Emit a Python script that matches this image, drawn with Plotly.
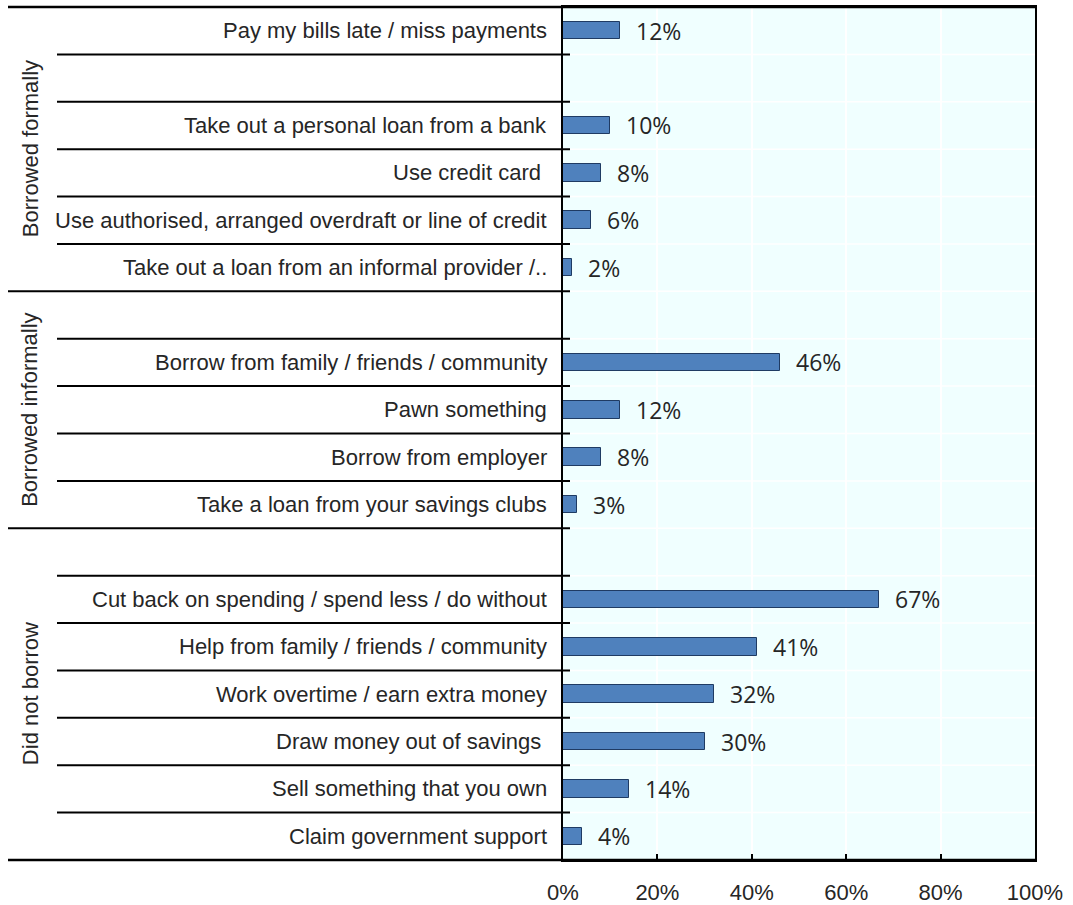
import plotly.graph_objects as go

categories = [
    "Pay my bills late / miss payments",
    "",
    "Take out a personal loan from a bank",
    "Use credit card\u00a0",
    "Use authorised, arranged overdraft or line of credit",
    "Take out a loan from an informal provider /..",
    "",
    "Borrow from family / friends / community",
    "Pawn something",
    "Borrow from employer",
    "Take a loan from your savings clubs",
    "",
    "Cut back on spending / spend less / do without",
    "Help from family / friends / community",
    "Work overtime / earn extra money",
    "Draw money out of savings\u00a0",
    "Sell something that you own",
    "Claim government support",
]
values = [12, None, 10, 8, 6, 2, None, 46, 12, 8, 3, None, 67, 41, 32, 30, 14, 4]
groups = ["Borrowed formally", "Borrowed informally", "Did not borrow"]
group_spans = [(0, 6), (6, 11), (11, 18)]  # [start, end) row indices
x_ticks = [0, 20, 40, 60, 80, 100]

W, H = 1073, 905
L, R, T, B = 563, 38, 7, 45
pw = W - L - R
ph = H - T - B
n = len(categories)

def px_x(px):
    return (px - L) / pw

text_color = "#262626"
label_font = dict(family="Liberation Sans, Arial", size=22, color=text_color)

rows = list(range(n))
fig = go.Figure()
fig.add_trace(go.Bar(
    x=values, y=rows, orientation="h",
    width=0.37,
    marker=dict(color="#4F81BD", line=dict(color="#1F3B63", width=1)),
    hoverinfo="skip",
))

annotations = []
for i, (c, v) in enumerate(zip(categories, values)):
    if c:
        annotations.append(dict(x=0, y=i, xref="x", yref="y", text=c, showarrow=False,
                                xanchor="right", yanchor="middle", xshift=-14,
                                font=label_font))
    if v is not None:
        annotations.append(dict(x=v, y=i, xref="x", yref="y", text=f"{v}%", showarrow=False,
                                xanchor="left", yanchor="middle", xshift=14,
                                font=dict(family="Open Sans", size=23, color=text_color)))

for g, (a, b) in zip(groups, group_spans):
    yc = 1 - ((a + b) / 2) / n
    annotations.append(dict(x=px_x(30), y=yc, xref="paper", yref="paper", text=g,
                            showarrow=False, textangle=-90, xanchor="center", yanchor="middle",
                            font=label_font))

shapes = []
group_bounds = {s for s, e in group_spans[1:]}
for k in range(1, n):
    yp = 1 - k / n
    shapes.append(dict(type="line", xref="paper", yref="paper", x0=0, x1=1, y0=yp, y1=yp,
                       line=dict(color="white", width=1.5), layer="below"))
    x0 = px_x(8) if k in group_bounds else px_x(57)
    shapes.append(dict(type="line", xref="paper", yref="paper", x0=x0, x1=px_x(570), y0=yp, y1=yp,
                       line=dict(color="black", width=2)))
for yp in (0, 1):
    shapes.append(dict(type="line", xref="paper", yref="paper", x0=px_x(8), x1=1, y0=yp, y1=yp,
                       line=dict(color="black", width=2.5)))

fig.update_layout(
    width=W, height=H,
    margin=dict(l=L, r=R, t=T, b=B, pad=0, autoexpand=False),
    paper_bgcolor="white",
    plot_bgcolor="#F0FFFF",
    showlegend=False,
    annotations=annotations,
    shapes=shapes,
    bargap=0,
)
fig.update_xaxes(
    range=[0, 100], tickvals=x_ticks, ticktext=[f"{t}%" for t in x_ticks],
    showgrid=True, gridcolor="white", gridwidth=1.5,
    showline=True, linecolor="black", linewidth=2, mirror=True,
    ticks="inside", ticklen=6, tickwidth=2, tickcolor="black",
    tickfont=label_font, ticklabelstandoff=12, zeroline=False, fixedrange=True,
    automargin=False,
)
fig.update_yaxes(
    range=[n - 0.5, -0.5], showticklabels=False, showgrid=False, zeroline=False,
    showline=True, linecolor="black", linewidth=2, mirror=True, ticks="", fixedrange=True,
    automargin=False,
)

fig.write_html(
    "out.html",
    config={"displayModeBar": False},
    post_script="document.body.style.margin='0px';document.body.style.overflow='hidden';",
)
